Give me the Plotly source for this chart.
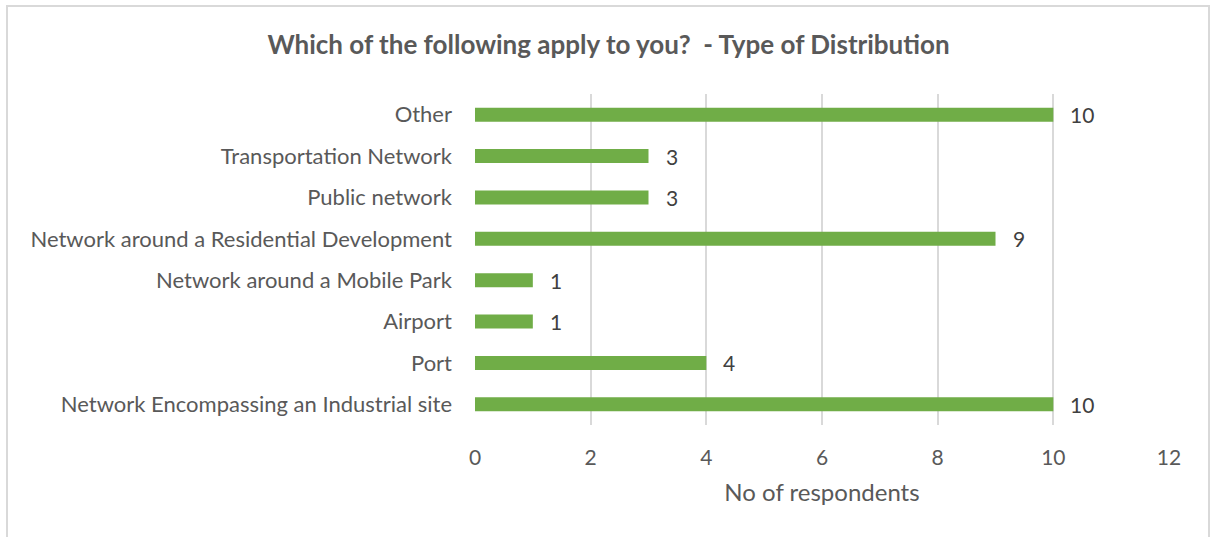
import plotly.graph_objects as go

# Survey responses: type of distribution network
categories = [
    "Network Encompassing an Industrial site",
    "Port",
    "Airport",
    "Network around a Mobile Park",
    "Network around a Residential Development",
    "Public network",
    "Transportation Network",
    "Other",
]
respondents = [10, 4, 1, 1, 9, 3, 3, 10]
x_ticks = [0, 2, 4, 6, 8, 10, 12]

TEXT = "#595959"
GRID = "#D9D9D9"
BAR = "#70AD47"
FONT = "Lato, 'Open Sans', sans-serif"

W, H = 1211, 537
L, R, T, B = 475, 42, 94, 112
pw, ph = W - L - R, H - T - B

fig = go.Figure(
    go.Bar(
        x=respondents,
        y=categories,
        orientation="h",
        marker=dict(color=BAR, line=dict(width=0)),
        width=0.34,
        hoverinfo="x+y",
    )
)

# value labels beside each bar
annotations = [
    dict(
        x=v,
        y=c,
        xref="x",
        yref="y",
        text=str(v),
        showarrow=False,
        xanchor="left",
        yanchor="middle",
        xshift=15,
        font=dict(size=21, color="#404040", family=FONT),
    )
    for c, v in zip(categories, respondents)
]

fig.update_layout(
    width=W,
    height=H,
    margin=dict(l=L, r=R, t=T, b=B),
    paper_bgcolor="white",
    plot_bgcolor="white",
    showlegend=False,
    font=dict(family=FONT, color=TEXT, size=21),
    title=dict(
        text="<b>Which of the following apply to you?  - Type of Distribution</b>",
        x=(264 + 953) / 2 / W,
        xanchor="center",
        y=1 - 45 / H,
        yanchor="middle",
        font=dict(size=26, color=TEXT, family=FONT),
    ),
    xaxis=dict(
        range=[0, 12],
        tickvals=x_ticks,
        showgrid=True,
        gridcolor=GRID,
        gridwidth=2,
        zeroline=False,
        showline=False,
        ticks="",
        ticklabelstandoff=18,
        tickfont=dict(size=21, color=TEXT),
        title=dict(text="No of respondents", font=dict(size=24, color=TEXT), standoff=16),
    ),
    yaxis=dict(
        categoryorder="array",
        categoryarray=categories,
        range=[-0.5, len(categories) - 0.5],
        showgrid=False,
        zeroline=False,
        showline=False,
        ticks="",
        ticklabelstandoff=22,
        tickfont=dict(size=22, color=TEXT),
    ),
    annotations=annotations,
    shapes=[
        dict(
            type="rect",
            xref="paper",
            yref="paper",
            x0=(7 - L) / pw,
            x1=(1209 - L) / pw,
            y0=(H - B - 560) / ph,
            y1=(H - B - 6) / ph,
            line=dict(color=GRID, width=2),
            fillcolor="rgba(0,0,0,0)",
            layer="below",
        )
    ],
)

fig.write_html("out.html")
